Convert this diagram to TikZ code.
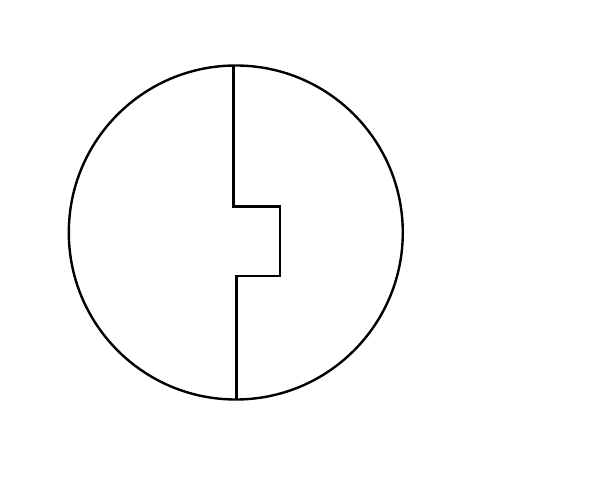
\documentclass[tikz,border=0pt]{standalone}
\begin{document}
\begin{tikzpicture}[x=1pt,y=-1pt,
  outline/.style={draw=black,line width=2.4pt},
  divider/.style={draw=black,line width=2.4pt,line join=miter}]
\useasboundingbox (0,0) rectangle (600,500);
\coordinate (c) at (235.8,232.5);
\draw[outline] (c) circle[radius=167];
\coordinate (top) at (233.5,65.5);
\coordinate (a) at (233.5,206.5);
\coordinate (b) at (280,206.5);
\coordinate (d) at (280,276);
\coordinate (e) at (236.5,276);
\coordinate (bot) at (236.5,399.5);
\draw[divider] (top) -- (a) -- (b) -- (d) -- (e) -- (bot);
\end{tikzpicture}
\end{document}
